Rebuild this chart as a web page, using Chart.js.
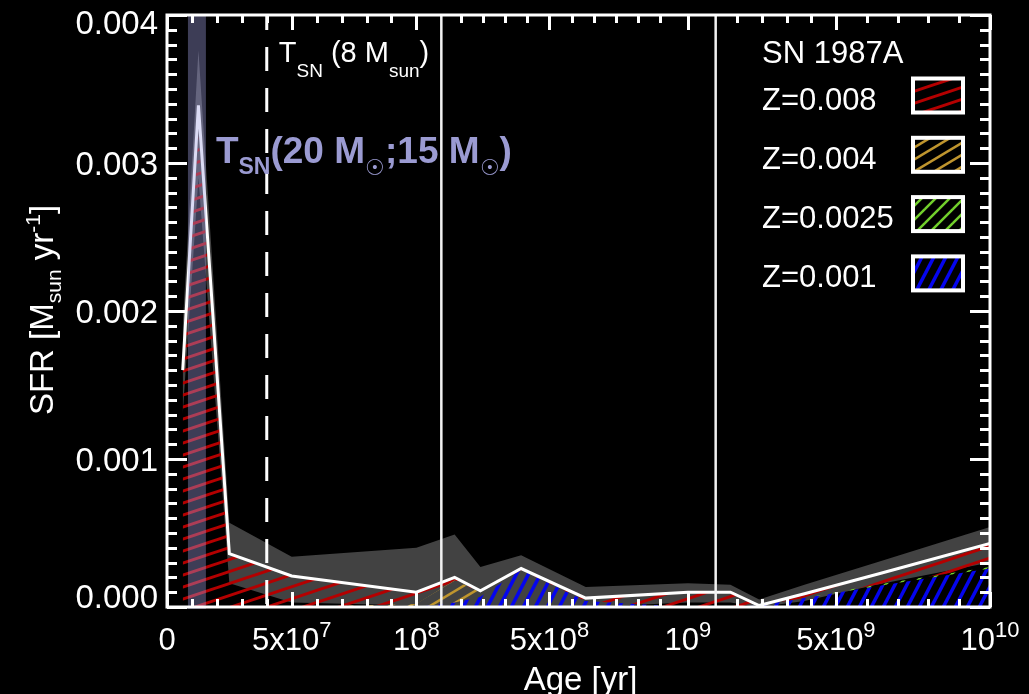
<!DOCTYPE html>
<html>
<head>
<meta charset="utf-8">
<script src="https://cdn.jsdelivr.net/npm/chart.js@4/dist/chart.umd.min.js"></script>
<style>
  html, body { margin: 0; padding: 0; background: #000; }
  #wrap { width: 1029px; height: 694px; }
</style>
</head>
<body>
<div id="wrap"><canvas id="sfhChart" width="1029" height="694"></canvas></div>
<script>
// Star formation history around SN 1987A, per age bin (yr)
const ages = [6.3e6, 1.26e7, 2.5e7, 5e7, 1e8, 1.58e8, 2.51e8, 3.98e8, 6.31e8, 1e9, 1.58e9, 2.51e9, 3.98e9, 6.31e9, 1e10];
const sfrTotal = [0.0016, 0.00339, 0.00036, 0.00021, 0.0001, 0.0002, 0.00011, 0.00026, 0.00006, 0.0001, 0.0001, 0.00001, 0.00009, 0.00022, 0.00043];
const sfrUpper = [0.0019, 0.00376, 0.00057, 0.00034, 0.0004, 0.00049, 0.00027, 0.00035, 0.000135, 0.00016, 0.00015, 0.00005, 0.00015, 0.0003, 0.00054];
const sfrLower = [0.0013, 0.0029, 0.00016, 0.00003, 0.00001, 0, 0, 0, 0, 0.00003, 0.00003, 0, 0.00004, 0.00015, 0.0003];
const sfrZ008 = [0.0016, 0.00318, 0.00036, 0.00021, 0.00008, 0.00001, 0.00001, 0.00001, 0.00002, 0.0001, 0.0001, 0, 0.00002, 0.00007, 0.00016];
const sfrZ004 = [0, 0, 0, 0, 0.00002, 0.00015, 0.00003, 0, 0, 0, 0, 0, 0, 0, 0];
const sfrZ0025 = [0, 0, 0, 0, 0, 0, 0, 0, 0, 0, 0, 0, 0, 0.00001, 0.00001];
const sfrZ001 = [0, 0, 0, 0, 0, 0.00003, 0.00007, 0.00025, 0.00004, 0, 0, 0.00001, 0.00006, 0.00014, 0.00026];

// x axis is three linear panels of equal width
const panelEdges = [0, 1.1e8, 1.1e9, 1e10];
const xTickMajor = [0, 5e7, 1e8, 5e8, 1e9, 5e9, 1e10];
const xTickLabels = [['0', ''], ['5x10', '7'], ['10', '8'], ['5x10', '8'], ['10', '9'], ['5x10', '9'], ['10', '10']];
const xTickMinor = [1e7, 2e7, 3e7, 4e7, 6e7, 7e7, 8e7, 9e7, 1.8e8, 2.6e8, 3.4e8, 4.2e8, 5.8e8, 6.6e8, 7.4e8, 8.2e8, 9e8,
                    1.8e9, 2.6e9, 3.4e9, 4.2e9, 6e9, 7e9, 8e9, 9e9];
const yTickMajor = [0, 0.001, 0.002, 0.003, 0.004];
const yTickLabels = ['0.000', '0.001', '0.002', '0.003', '0.004'];
const yMinorPerMajor = 10;

const tsn8 = 4e7;                 // T_SN (8 Msun)
const tsnBand = [8.4e6, 1.56e7];  // T_SN (20 Msun ; 15 Msun)
const legendLabels = ['Z=0.008', 'Z=0.004', 'Z=0.0025', 'Z=0.001'];

const FONT = '"Liberation Sans", Arial, Helvetica, sans-serif';

function panelDecimal(v) {
    const n = panelEdges.length - 1;
    let i = 0;
    while (i < n - 1 && v > panelEdges[i + 1]) i++;
    return (i + (v - panelEdges[i]) / (panelEdges[i + 1] - panelEdges[i])) / n;
}

class PanelScale extends Chart.LinearScale {
    getPixelForValue(value) {
        return value === null ? NaN : this.getPixelForDecimal(panelDecimal(value));
    }
    getValueForPixel(pixel) {
        const n = panelEdges.length - 1;
        const u = Math.min(Math.max(this.getDecimalForPixel(pixel), 0), 1) * n;
        const i = Math.min(Math.floor(u), n - 1);
        return panelEdges[i] + (u - i) * (panelEdges[i + 1] - panelEdges[i]);
    }
}
PanelScale.id = 'panels';
PanelScale.defaults = Chart.LinearScale.defaults;
Chart.register(PanelScale);

function hatch(color, w, h, lw) {
    const c = document.createElement('canvas');
    c.width = w; c.height = h;
    const g = c.getContext('2d');
    g.strokeStyle = color;
    g.lineWidth = lw;
    for (let k = -2; k <= 2; k++) {
        g.beginPath();
        g.moveTo(-w, 2 * h + k * h);
        g.lineTo(2 * w, -h + k * h);
        g.stroke();
    }
    return g.createPattern(c, 'repeat');
}

const ctx = document.getElementById('sfhChart').getContext('2d');
const patRed = hatch('#b40000', 36, 12, 3);
const patGold = hatch('#bf952e', 20, 12, 2.5);
const patGreen = hatch('#72d02c', 14, 14, 2.5);
const patBlue = hatch('#0505ee', 12, 23, 3.5);
const legendPatterns = [patRed, patGold, patGreen, patBlue];

const pts = ys => ages.map((a, i) => ({ x: a, y: ys[i] }));
const cum1 = sfrZ001;
const cum2 = cum1.map((v, i) => v + sfrZ0025[i]);
const cum3 = cum2.map((v, i) => v + sfrZ004[i]);
const cum4 = cum3.map((v, i) => v + sfrZ008[i]);
const vline = (x, y0, y1) => [{ x: x, y: y0 }, { x: x, y: y1 }];

const base = { pointRadius: 0, tension: 0, borderWidth: 0, borderColor: 'rgba(0,0,0,0)' };

function richText(c, parts, x, y, align) {
    let w = 0;
    parts.forEach(p => { c.font = (p.b ? 'bold ' : '') + p.s + 'px ' + FONT; w += c.measureText(p.t).width; });
    let cx = align === 'center' ? x - w / 2 : (align === 'right' ? x - w : x);
    c.textAlign = 'left';
    c.textBaseline = 'alphabetic';
    parts.forEach(p => {
        c.font = (p.b ? 'bold ' : '') + p.s + 'px ' + FONT;
        c.fillText(p.t, cx, y + (p.dy || 0));
        cx += c.measureText(p.t).width;
    });
}

const decor = {
    id: 'decor',
    beforeDraw(chart) {
        const c = chart.ctx;
        c.save();
        c.fillStyle = '#000';
        c.fillRect(0, 0, chart.width, chart.height);
        c.restore();
    },
    afterDatasetsDraw(chart) {
        const c = chart.ctx, a = chart.chartArea, x = chart.scales.x, y = chart.scales.y;
        c.save();
        // T_SN(20;15) band
        const b0 = x.getPixelForValue(tsnBand[0]), b1 = x.getPixelForValue(tsnBand[1]);
        c.fillStyle = 'rgba(160,160,225,0.38)';
        c.fillRect(b0, a.top, b1 - b0, a.bottom - a.top + 2);

        // frame
        c.strokeStyle = '#fff';
        c.lineWidth = 3;
        c.strokeRect(a.left, a.top, a.right - a.left, a.bottom - a.top);

        // y ticks (both sides, inward)
        const ySteps = (yTickMajor.length - 1) * yMinorPerMajor;
        const yStep = (yTickMajor[yTickMajor.length - 1] - yTickMajor[0]) / ySteps;
        c.beginPath();
        for (let k = 0; k <= ySteps; k++) {
            const py = Math.round(y.getPixelForValue(yTickMajor[0] + k * yStep)) + 0.5;
            const len = k % yMinorPerMajor === 0 ? 20 : 10;
            c.moveTo(a.left, py); c.lineTo(a.left + len, py);
            c.moveTo(a.right, py); c.lineTo(a.right - len, py);
        }
        // x ticks (top and bottom, inward)
        const xt = xTickMajor.map(v => [v, 15]).concat(xTickMinor.map(v => [v, 8]));
        xt.forEach(([v, len]) => {
            const px = Math.round(x.getPixelForValue(v)) + 0.5;
            c.moveTo(px, a.bottom); c.lineTo(px, a.bottom - len);
            c.moveTo(px, a.top); c.lineTo(px, a.top + len);
        });
        c.stroke();

        // y tick labels
        c.fillStyle = '#fff';
        c.font = '33px ' + FONT;
        c.textAlign = 'right';
        c.textBaseline = 'alphabetic';
        yTickMajor.forEach((v, i) => {
            const py = Math.min(Math.max(y.getPixelForValue(v), a.top + 7), a.bottom - 11);
            c.fillText(yTickLabels[i], a.left - 9, py + 12);
        });
        // x tick labels
        xTickMajor.forEach((v, i) => {
            const [m, e] = xTickLabels[i];
            richText(c, [{ t: m, s: 31 }, { t: e, s: 22, dy: -13 }], x.getPixelForValue(v), 650, 'center');
        });

        // axis titles
        richText(c, [{ t: 'Age [yr]', s: 33 }], (a.left + a.right) / 2 + 2, 690, 'center');
        c.save();
        c.translate(53, 310);
        c.rotate(-Math.PI / 2);
        richText(c, [{ t: 'SFR [M', s: 33 }, { t: 'sun', s: 21, dy: 8 }, { t: ' yr', s: 33 }, { t: '-1', s: 21, dy: -13 }, { t: ']', s: 33 }], 0, 0, 'center');
        c.restore();

        // annotations
        c.fillStyle = '#fff';
        richText(c, [{ t: 'T', s: 29 }, { t: 'SN', s: 19, dy: 15 }, { t: ' (8 M', s: 29 }, { t: 'sun', s: 19, dy: 15 }, { t: ')', s: 29 }],
            x.getPixelForValue(tsn8) + 12, 62, 'left');
        c.fillStyle = '#9b9bd2';
        richText(c, [{ t: 'T', s: 37, b: 1 }, { t: 'SN', s: 23, b: 1, dy: 11 }, { t: '(20 M', s: 37, b: 1 }, { t: '\u2609', s: 22, dy: 12 },
            { t: ';15 M', s: 37, b: 1 }, { t: '\u2609', s: 22, dy: 12 }, { t: ')', s: 37, b: 1 }], b1 + 10, 163, 'left');

        // legend
        c.fillStyle = '#fff';
        richText(c, [{ t: 'SN 1987A', s: 31 }], 762, 63, 'left');
        legendLabels.forEach((lab, i) => {
            const cy = 95.5 + i * 59.3;
            c.fillStyle = '#fff';
            richText(c, [{ t: lab, s: 31 }], 762, cy + 14, 'left');
            c.fillStyle = '#000';
            c.fillRect(913, cy - 17, 50, 34);
            c.fillStyle = legendPatterns[i];
            c.fillRect(913, cy - 17, 50, 34);
            c.strokeStyle = '#fff';
            c.lineWidth = 4;
            c.strokeRect(913, cy - 17, 50, 34);
        });
        c.restore();
    }
};

new Chart(ctx, {
    type: 'line',
    data: {
        datasets: [
            { ...base, data: pts(sfrLower), fill: false, order: 11 },
            { ...base, data: pts(sfrUpper), fill: '-1', backgroundColor: '#424242', order: 10 },
            { ...base, data: pts(cum1), fill: 'origin', backgroundColor: patBlue, order: 9 },
            { ...base, data: pts(cum2), fill: '-1', backgroundColor: patGreen, order: 8 },
            { ...base, data: pts(cum3), fill: '-1', backgroundColor: patGold, order: 7 },
            { ...base, data: pts(cum4), fill: '-1', backgroundColor: patRed, order: 6 },
            { ...base, data: pts(sfrTotal), fill: false, borderColor: '#ffffff', borderWidth: 3, order: 2 },
            { ...base, data: vline(tsn8, 0.004, 0), fill: false, borderColor: '#ffffff', borderWidth: 3,
              borderDash: [24, 17], borderDashOffset: 9, order: 1 },
            { ...base, data: vline(panelEdges[1], 0.004, 0), fill: false, borderColor: '#f2f2f2', borderWidth: 2.5, order: 1 },
            { ...base, data: vline(panelEdges[2], 0.004, 0), fill: false, borderColor: '#f2f2f2', borderWidth: 2.5, order: 1 }
        ]
    },
    options: {
        responsive: false,
        animation: false,
        devicePixelRatio: 1,
        events: [],
        layout: { padding: { left: 167, right: 39, top: 15, bottom: 87 } },
        plugins: { legend: { display: false }, tooltip: { enabled: false } },
        scales: {
            x: { type: 'panels', min: 0, max: 1e10, display: false },
            y: { type: 'linear', min: 0, max: 0.004, display: false }
        }
    },
    plugins: [decor]
});
</script>
</body>
</html>
